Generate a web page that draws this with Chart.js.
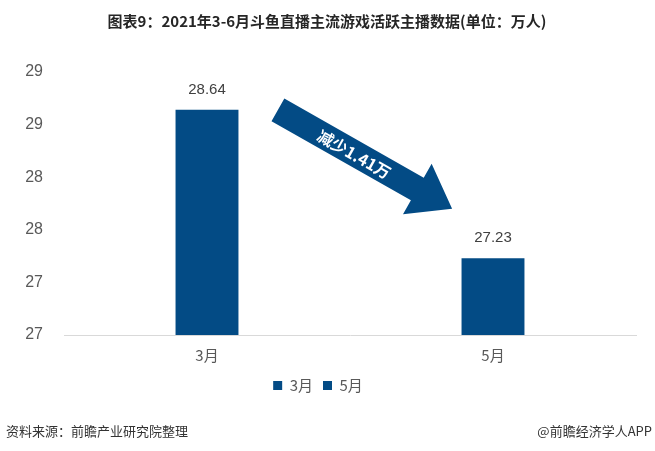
<!DOCTYPE html>
<html>
<head>
<meta charset="utf-8">
<script src="https://cdn.jsdelivr.net/npm/chart.js@4/dist/chart.umd.min.js"></script>
<style>
  html, body { margin: 0; padding: 0; background: #fff; }
  #wrap { width: 655px; height: 451px; }
</style>
</head>
<body>
<div id="wrap"><canvas id="chart"></canvas></div>
<script>
const categories = ['3月', '5月'];
const seriesNames = ['3月', '5月'];
const march = [28.64, null];
const may = [null, 27.23];
const yTicks = [27, 27.5, 28, 28.5, 29];
const chartTitle = '图表9：2021年3-6月斗鱼直播主流游戏活跃主播数据(单位：万人)';
const sourceText = '资料来源：前瞻产业研究院整理';
const creditText = '@前瞻经济学人APP';
const arrowText = '减少1.41万';

const blue = '#034b85';
const numFont = '"Liberation Sans", Arial, "Noto Sans CJK SC", sans-serif';
const cjkFont = '"Noto Sans CJK SC", "Liberation Sans", sans-serif';

// title, source line, value labels and the arrow
const extras = {
    id: 'extras',
    afterDatasetsDraw(chart) {
        const ctx = chart.ctx;
        const x = chart.scales.x;
        const y = chart.scales.y;
        ctx.save();

        ctx.fillStyle = '#262626';
        ctx.font = 'bold 15px ' + cjkFont;
        ctx.textAlign = 'center';
        ctx.textBaseline = 'middle';
        ctx.fillText(chartTitle, 327, 21);

        ctx.font = '13px ' + cjkFont;
        ctx.fillStyle = '#333';
        ctx.textAlign = 'left';
        ctx.fillText(sourceText, 6, 431);
        ctx.textAlign = 'right';
        ctx.fillText(creditText, 652, 431);

        // value labels above bars
        ctx.font = '15px ' + numFont;
        ctx.fillStyle = '#404040';
        ctx.textAlign = 'center';
        chart.data.datasets.forEach((ds, i) => {
            chart.getDatasetMeta(i).data.forEach((bar, j) => {
                if (ds.data[j] == null) return;
                ctx.fillText(ds.data[j].toFixed(2), bar.x, bar.y - 20);
            });
        });

        // arrow from first bar to second bar
        const p0 = x.getPixelForValue(0), p1 = x.getPixelForValue(1);
        const sx = p0 + 0.248 * (p1 - p0), sy = y.getPixelForValue(march[0]);
        const ex = p0 + 0.857 * (p1 - p0), ey = y.getPixelForValue(27.70);
        const ang = Math.atan2(ey - sy, ex - sx);
        const len = Math.hypot(ex - sx, ey - sy);
        const hw = 13, headW = 29, headL = 40;
        ctx.translate(sx, sy);
        ctx.rotate(ang);
        ctx.fillStyle = blue;
        ctx.beginPath();
        ctx.moveTo(0, -hw);
        ctx.lineTo(len - headL, -hw);
        ctx.lineTo(len - headL, -headW);
        ctx.lineTo(len, 0);
        ctx.lineTo(len - headL, headW);
        ctx.lineTo(len - headL, hw);
        ctx.lineTo(0, hw);
        ctx.closePath();
        ctx.fill();
        ctx.fillStyle = '#fff';
        ctx.font = 'bold 16px ' + cjkFont;
        ctx.textAlign = 'center';
        ctx.fillText(arrowText, (len - headL) / 2 + 8, 1);
        ctx.restore();
    }
};

new Chart(document.getElementById('chart'), {
    type: 'bar',
    data: {
        labels: categories,
        datasets: [
            { label: seriesNames[0], data: march, backgroundColor: blue },
            { label: seriesNames[1], data: may, backgroundColor: blue }
        ]
    },
    options: {
        responsive: true,
        maintainAspectRatio: false,
        animation: false,
        skipNull: true,
        categoryPercentage: 0.22,
        barPercentage: 1,
        layout: { padding: { top: 72, right: 19, bottom: 48, left: 0 } },
        scales: {
            x: {
                grid: { display: false },
                border: { color: '#d9d9d9', width: 1 },
                ticks: { color: '#595959', font: { size: 15, family: cjkFont }, padding: 3 },
                afterFit(scale) { scale.height = 33; }
            },
            y: {
                min: 26.5,
                max: 29,
                afterBuildTicks(scale) {
                    scale.ticks = [26.5].concat(yTicks).map(v => ({ value: v }));
                },
                grid: { display: false, drawTicks: false },
                border: { display: false },
                ticks: {
                    color: '#595959',
                    font: { size: 16, family: numFont },
                    padding: 21,
                    callback: v => Math.round(v)
                },
                afterFit(scale) { scale.width = 64; }
            }
        },
        plugins: {
            legend: {
                position: 'bottom',
                labels: {
                    usePointStyle: true,
                    pointStyle: 'rect',
                    boxWidth: 9,
                    boxHeight: 9,
                    color: '#595959',
                    font: { size: 15, family: cjkFont },
                    padding: 10
                }
            },
            tooltip: { enabled: false }
        }
    },
    plugins: [extras]
});
</script>
</body>
</html>
